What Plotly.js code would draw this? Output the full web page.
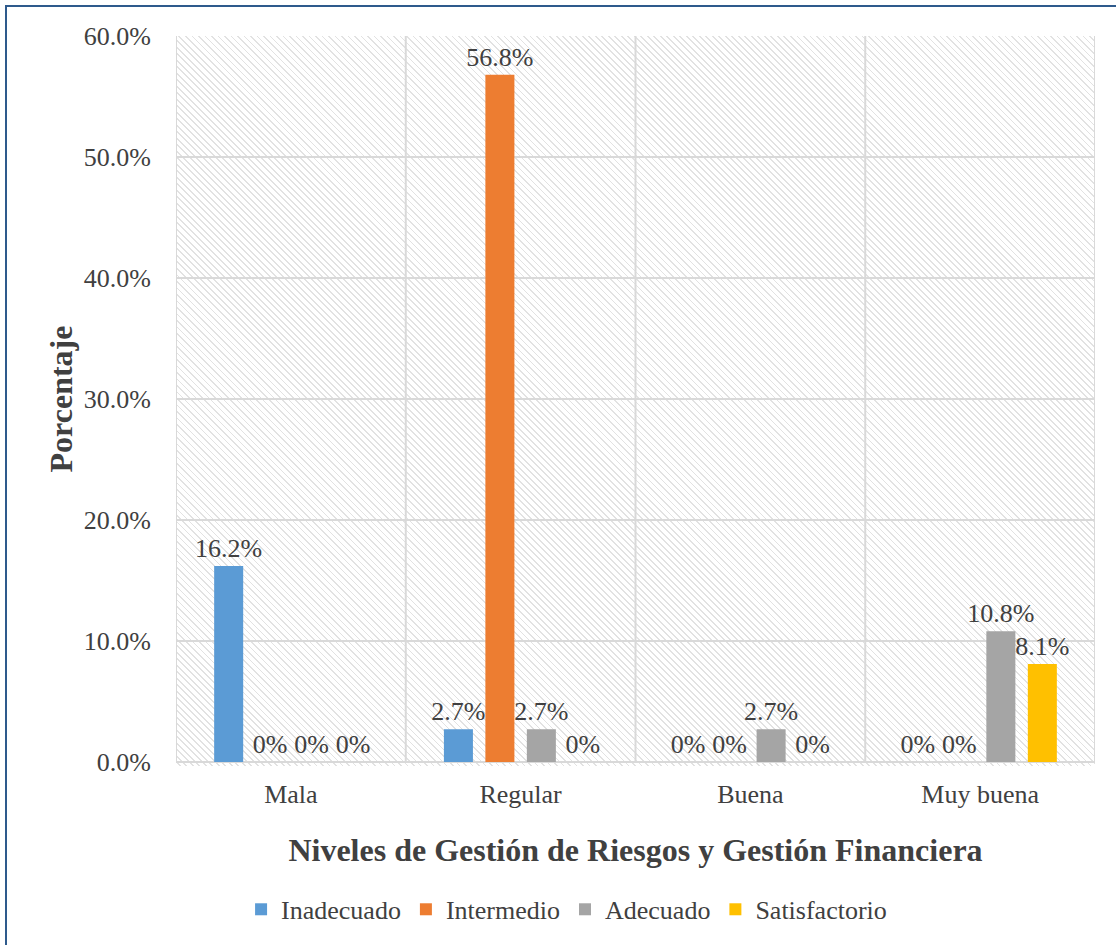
<!DOCTYPE html>
<html>
<head>
<meta charset="utf-8">
<script src="https://cdn.plot.ly/plotly-3.0.1.min.js"></script>
<style>
  html, body { margin: 0; padding: 0; background: #ffffff; }
  #wrap { position: relative; width: 1116px; height: 945px; overflow: hidden; }
  #hatch {
    position: absolute; left: 176px; top: 36px; width: 919px; height: 730px;
    background: repeating-linear-gradient(45deg, #ffffff 0px, #ffffff 2.4px, #e2e2e2 2.4px, #e2e2e2 3.6px, #ffffff 3.6px, #ffffff 4.6px);
  }
  #chart { position: absolute; left: 0; top: 0; width: 1116px; height: 945px; }
  #frame {
    position: absolute; left: 5px; top: 5px; width: 1200px; height: 1000px;
    border-left: 2px solid #2e5a8c; border-top: 2px solid #2e5a8c;
    pointer-events: none;
  }
</style>
</head>
<body>
<div id="wrap">
  <div id="hatch"></div>
  <div id="chart"></div>
  <div id="frame"></div>
</div>
<script>
const categories = ['Mala', 'Regular', 'Buena', 'Muy buena'];
const seriesNames = ['Inadecuado', 'Intermedio', 'Adecuado', 'Satisfactorio'];
const inadecuado = [16.2, 2.7, 0, 0];
const intermedio = [0, 56.8, 0, 0];
const adecuado = [0, 2.7, 2.7, 10.8];
const satisfactorio = [0, 0, 0, 8.1];
const seriesColors = ['#5b9bd5', '#ed7d31', '#a5a5a5', '#ffc000'];
const yTicks = [0, 10, 20, 30, 40, 50, 60];

const FONT = '"Liberation Serif", "Times New Roman", Times, serif';
const TXT = '#404040';

function label(v) { return v === 0 ? '0%' : v.toFixed(1) + '%'; }

const allValues = [inadecuado, intermedio, adecuado, satisfactorio];
const traces = allValues.map((vals, i) => ({
  type: 'bar',
  name: seriesNames[i],
  x: categories,
  y: vals,
  text: vals.map(label),
  textposition: 'outside',
  textfont: { family: FONT, size: 26, color: TXT },
  constraintext: 'none',
  cliponaxis: false,
  marker: { color: seriesColors[i] },
  hoverinfo: 'x+y+name'
}));

const vlines = [-0.5, 0.5, 1.5, 2.5, 3.5].map(x => ({
  type: 'line', xref: 'x', yref: 'y', x0: x, x1: x, y0: 0, y1: 60,
  line: { color: '#d9d9d9', width: 2 }, layer: 'below'
}));

const layout = {
  width: 1116, height: 945,
  margin: { l: 176, r: 21, t: 36, b: 179 },
  paper_bgcolor: 'rgba(0,0,0,0)',
  plot_bgcolor: 'rgba(0,0,0,0)',
  font: { family: FONT, color: TXT, size: 26 },
  barmode: 'group',
  bargap: 0.278,
  bargroupgap: 0.3,
  showlegend: true,
  legend: {
    orientation: 'h', x: 0.425, xanchor: 'center', y: -0.203, yanchor: 'middle',
    font: { family: FONT, size: 26, color: TXT },
    itemwidth: 30, traceorder: 'normal'
  },
  xaxis: {
    type: 'category',
    range: [-0.5, 3.5],
    showgrid: false, zeroline: false,
    showline: false, ticks: '',
    ticklabelstandoff: 14,
    tickfont: { family: FONT, size: 26, color: TXT },
    title: {
      text: 'Niveles de Gestión de Riesgos y Gestión Financiera',
      font: { family: FONT, size: 32, color: TXT, weight: 'bold' },
      standoff: 30
    },
    automargin: true
  },
  yaxis: {
    range: [0, 60],
    tickvals: yTicks,
    ticktext: yTicks.map(v => v.toFixed(1) + '%'),
    showgrid: true, gridcolor: '#d9d9d9', gridwidth: 2,
    zeroline: true, zerolinecolor: '#d9d9d9', zerolinewidth: 2,
    showline: false, ticks: '',
    ticklabelstandoff: 24,
    tickfont: { family: FONT, size: 26, color: TXT },
    title: {
      text: 'Porcentaje',
      font: { family: FONT, size: 32, color: TXT, weight: 'bold' },
      standoff: 1
    },
    automargin: true
  },
  shapes: vlines
};

Plotly.newPlot('chart', traces, layout, { displayModeBar: false, staticPlot: true });
</script>
</body>
</html>
